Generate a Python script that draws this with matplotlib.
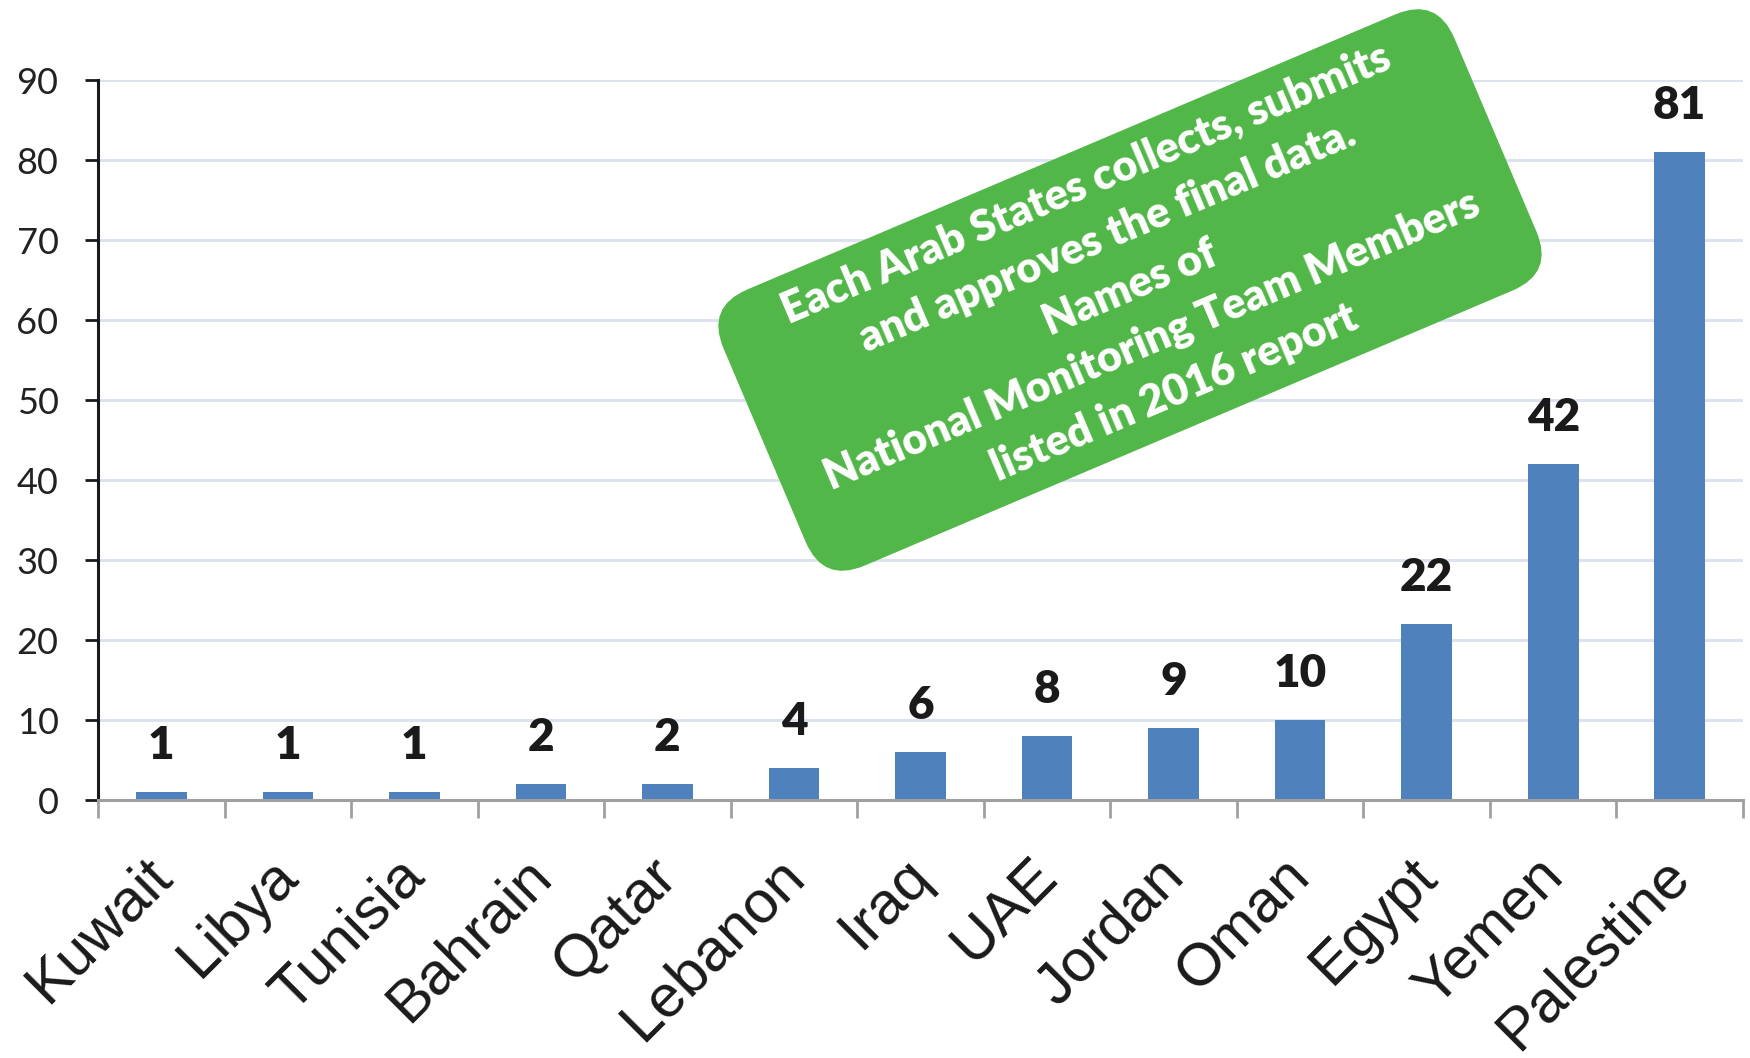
import matplotlib
matplotlib.use("Agg")
import matplotlib.pyplot as plt
from matplotlib.patches import FancyBboxPatch
from matplotlib.transforms import Affine2D, ScaledTranslation, blended_transform_factory

countries = ["Kuwait", "Libya", "Tunisia", "Bahrain", "Qatar", "Lebanon", "Iraq",
             "UAE", "Jordan", "Oman", "Egypt", "Yemen", "Palestine"]
values = [1, 1, 1, 2, 2, 4, 6, 8, 9, 10, 22, 42, 81]
yticks = [0, 10, 20, 30, 40, 50, 60, 70, 80, 90]
note_lines = ["Each Arab States collects, submits",
              "and approves the final data.",
              "Names of",
              "National Monitoring Team Members",
              "listed in 2016 report"]

fig = plt.figure(figsize=(17.5, 10.58), dpi=100)
ax = fig.add_axes([98/1750, 1 - 800/1058, (1743-98)/1750, (800-80)/1058])

x = list(range(len(countries)))
ax.bar(x, values, width=0.4, color="#4F81BD", zorder=3)
ax.set_xlim(-0.5, len(countries) - 0.5)
ax.set_ylim(0, 90)

ax.set_yticks(yticks)
ax.set_yticklabels([str(t) for t in yticks], family="Lato", fontsize=26, color="#222222")
ax.tick_params(axis="y", length=9.4, width=2, color="#1a1a1a", pad=19)
ax.yaxis.grid(True, color="#DCE3EF", linewidth=2.2, zorder=0)
ax.set_axisbelow(True)

ax.set_xticks([i - 0.5 for i in range(len(countries) + 1)])
ax.set_xticklabels([])
ax.tick_params(axis="x", length=13, width=2, color="#A0A0A0")

for side in ["top", "right"]:
    ax.spines[side].set_visible(False)
ax.spines["left"].set_color("#1a1a1a")
ax.spines["left"].set_linewidth(2.2)
ax.spines["bottom"].set_color("#A0A0A0")
ax.spines["bottom"].set_linewidth(2.2)
ax.spines["bottom"].set_zorder(4)

# value labels
for xi, v in zip(x, values):
    ax.annotate(str(v), xy=(xi, v), xytext=(0, 24), textcoords="offset points",
                ha="center", va="baseline", family="Lato", fontweight="heavy",
                fontsize=33, color="#1a1a1a")

# category labels
trans = blended_transform_factory(ax.transData, ax.transAxes) + \
    ScaledTranslation(0.12, -0.78, fig.dpi_scale_trans)
for xi, name in zip(x, countries):
    ax.text(xi, 0, name, transform=trans, rotation=45, rotation_mode="anchor",
            ha="right", va="baseline", family="Liberation Sans", fontsize=43,
            color="#1a1a1a", clip_on=False)

# green rotated note box
cx, cy = 11.30, 10.58 - 2.90
a, b, r = 3.97, 1.50, 0.45
angle = 23
box = FancyBboxPatch((cx - a, cy - b), 2 * a, 2 * b,
                     boxstyle=f"round,pad=0,rounding_size={r}",
                     facecolor="#52B749", edgecolor="none",
                     transform=Affine2D().rotate_deg_around(cx, cy, angle) + fig.dpi_scale_trans,
                     zorder=5)
fig.add_artist(box)
fig.text(cx, cy + 0.02, "\n".join(note_lines), transform=fig.dpi_scale_trans,
         rotation=angle, rotation_mode="anchor", ha="center", va="center",
         multialignment="center", family="Lato", fontweight="heavy", fontsize=31,
         color="white", linespacing=1.5, zorder=6)

fig.savefig("out.png", dpi=100)
